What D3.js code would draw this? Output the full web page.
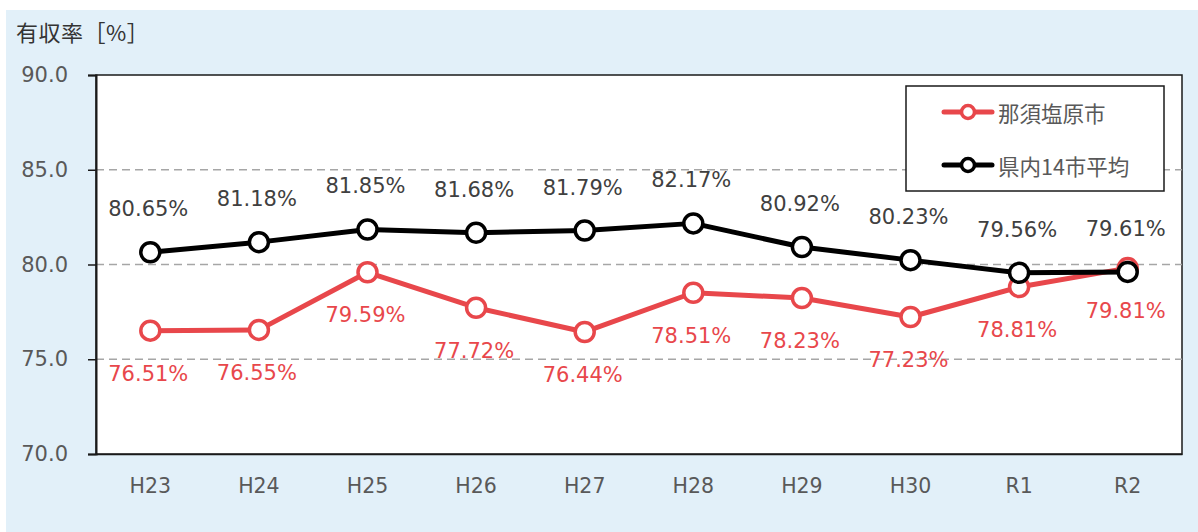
<!DOCTYPE html>
<html>
<head>
<meta charset="utf-8">
<script src="https://cdn.jsdelivr.net/npm/d3@7"></script>
<style>
  body { margin: 0; background: #fff; }
  svg { display: block; font-family: "DejaVu Sans", "Noto Sans CJK JP", sans-serif; }
</style>
</head>
<body>
<svg id="chart" width="1198" height="532"></svg>
<script>
// data
const years = ["H23", "H24", "H25", "H26", "H27", "H28", "H29", "H30", "R1", "R2"];
const nasushiobara = [76.51, 76.55, 79.59, 77.72, 76.44, 78.51, 78.23, 77.23, 78.81, 79.81];
const prefAverage = [80.65, 81.18, 81.85, 81.68, 81.79, 82.17, 80.92, 80.23, 79.56, 79.61];
const yTicks = [70, 75, 80, 85, 90];
const seriesNames = ["那須塩原市", "県内14市平均"];

const width = 1198, height = 532;
const plot = { left: 96, right: 1182, top: 75, bottom: 454 };
const redColor = "#E8474B";
const textGray = "#595959";
const fontFam = "'DejaVu Sans', 'Noto Sans CJK JP', sans-serif";
const jpFont = "'Noto Sans CJK JP', sans-serif";

const svg = d3.select("#chart");

// background panel
svg.append("rect")
  .attr("x", 6).attr("y", 10)
  .attr("width", 1192).attr("height", 522)
  .attr("fill", "#E2F0F9");

svg.append("rect")
  .attr("x", plot.left).attr("y", plot.top)
  .attr("width", plot.right - plot.left).attr("height", plot.bottom - plot.top)
  .attr("fill", "#fff")
  .attr("stroke", "#1a1a1a")
  .attr("stroke-width", 1.5);

const x = d3.scaleBand()
  .domain(years)
  .range([plot.left, plot.right]);

const y = d3.scaleLinear()
  .domain([70, 90])
  .range([plot.bottom, plot.top]);

const cx = (d) => x(d) + x.bandwidth() / 2;

// grid lines
svg.append("g")
  .selectAll("line")
  .data(yTicks.filter((t) => t > 70 && t < 90))
  .join("line")
  .attr("x1", plot.left).attr("x2", plot.right)
  .attr("y1", (d) => y(d)).attr("y2", (d) => y(d))
  .attr("stroke", "#A6A6A6")
  .attr("stroke-width", 1.5)
  .attr("stroke-dasharray", "8,5");

// y axis
const yAxis = svg.append("g")
  .attr("transform", `translate(${plot.left},0)`)
  .call(d3.axisLeft(y).tickValues(yTicks).tickFormat(d3.format(".1f")).tickSize(8).tickPadding(20))
  .attr("font-family", fontFam);
yAxis.select(".domain").attr("stroke", "#1a1a1a").attr("stroke-width", 2);
yAxis.selectAll(".tick line").attr("stroke", "#1a1a1a").attr("stroke-width", 1.5);
yAxis.selectAll(".tick text")
  .attr("fill", textGray)
  .style("font-size", "21px");

// x axis labels
const xAxis = svg.append("g")
  .attr("transform", `translate(0,${plot.bottom})`)
  .call(d3.axisBottom(x).tickSize(0).tickPadding(24))
  .attr("font-family", fontFam);
xAxis.select(".domain").attr("stroke", "#1a1a1a").attr("stroke-width", 1.5);
xAxis.selectAll(".tick text")
  .attr("fill", textGray)
  .style("font-size", "20.5px");

// title
svg.append("text")
  .attr("x", 16).attr("y", 41)
  .attr("fill", "#333")
  .style("font-family", jpFont)
  .style("font-size", "22px")
  .style("letter-spacing", "0.5px")
  .text("有収率［%］");

function drawSeries(values, color, labelColor, labelDy) {
  const pts = years.map((yr, i) => ({ yr, v: values[i] }));
  const line = d3.line().x((d) => cx(d.yr)).y((d) => y(d.v));
  svg.append("path")
    .datum(pts)
    .attr("d", line)
    .attr("fill", "none")
    .attr("stroke", color)
    .attr("stroke-width", 5)
    .attr("stroke-linejoin", "round");
  svg.append("g")
    .selectAll("circle")
    .data(pts)
    .join("circle")
    .attr("cx", (d) => cx(d.yr))
    .attr("cy", (d) => y(d.v))
    .attr("r", 9.5)
    .attr("fill", "#fff")
    .attr("stroke", color)
    .attr("stroke-width", 3.5);
  svg.append("g")
    .selectAll("text")
    .data(pts)
    .join("text")
    .attr("x", (d) => cx(d.yr) - 2)
    .attr("y", (d) => y(d.v) + labelDy)
    .attr("text-anchor", "middle")
    .attr("dominant-baseline", "central")
    .attr("fill", labelColor)
    .style("font-size", "21px")
    .text((d) => d.v.toFixed(2) + "%");
}

drawSeries(nasushiobara, redColor, redColor, 43);
drawSeries(prefAverage, "#000", "#404040", -43);

// legend
const legend = svg.append("g");
legend.append("rect")
  .attr("x", 906).attr("y", 86)
  .attr("width", 258).attr("height", 105)
  .attr("fill", "#fff")
  .attr("stroke", "#1a1a1a")
  .attr("stroke-width", 1.5);

const legendItems = [
  { name: seriesNames[0], color: redColor, yy: 112 },
  { name: seriesNames[1], color: "#000", yy: 165 }
];
legendItems.forEach((it) => {
  legend.append("line")
    .attr("x1", 944).attr("x2", 992)
    .attr("y1", it.yy).attr("y2", it.yy)
    .attr("stroke", it.color)
    .attr("stroke-width", 5)
    .attr("stroke-linecap", "round");
  legend.append("circle")
    .attr("cx", 968).attr("cy", it.yy)
    .attr("r", 6.5)
    .attr("fill", "#fff")
    .attr("stroke", it.color)
    .attr("stroke-width", 3.5);
  legend.append("text")
    .attr("x", 998).attr("y", it.yy)
    .attr("dominant-baseline", "central")
    .attr("fill", textGray)
    .style("font-family", jpFont)
    .style("font-size", "21.5px")
    .text(it.name);
});
</script>
</body>
</html>
